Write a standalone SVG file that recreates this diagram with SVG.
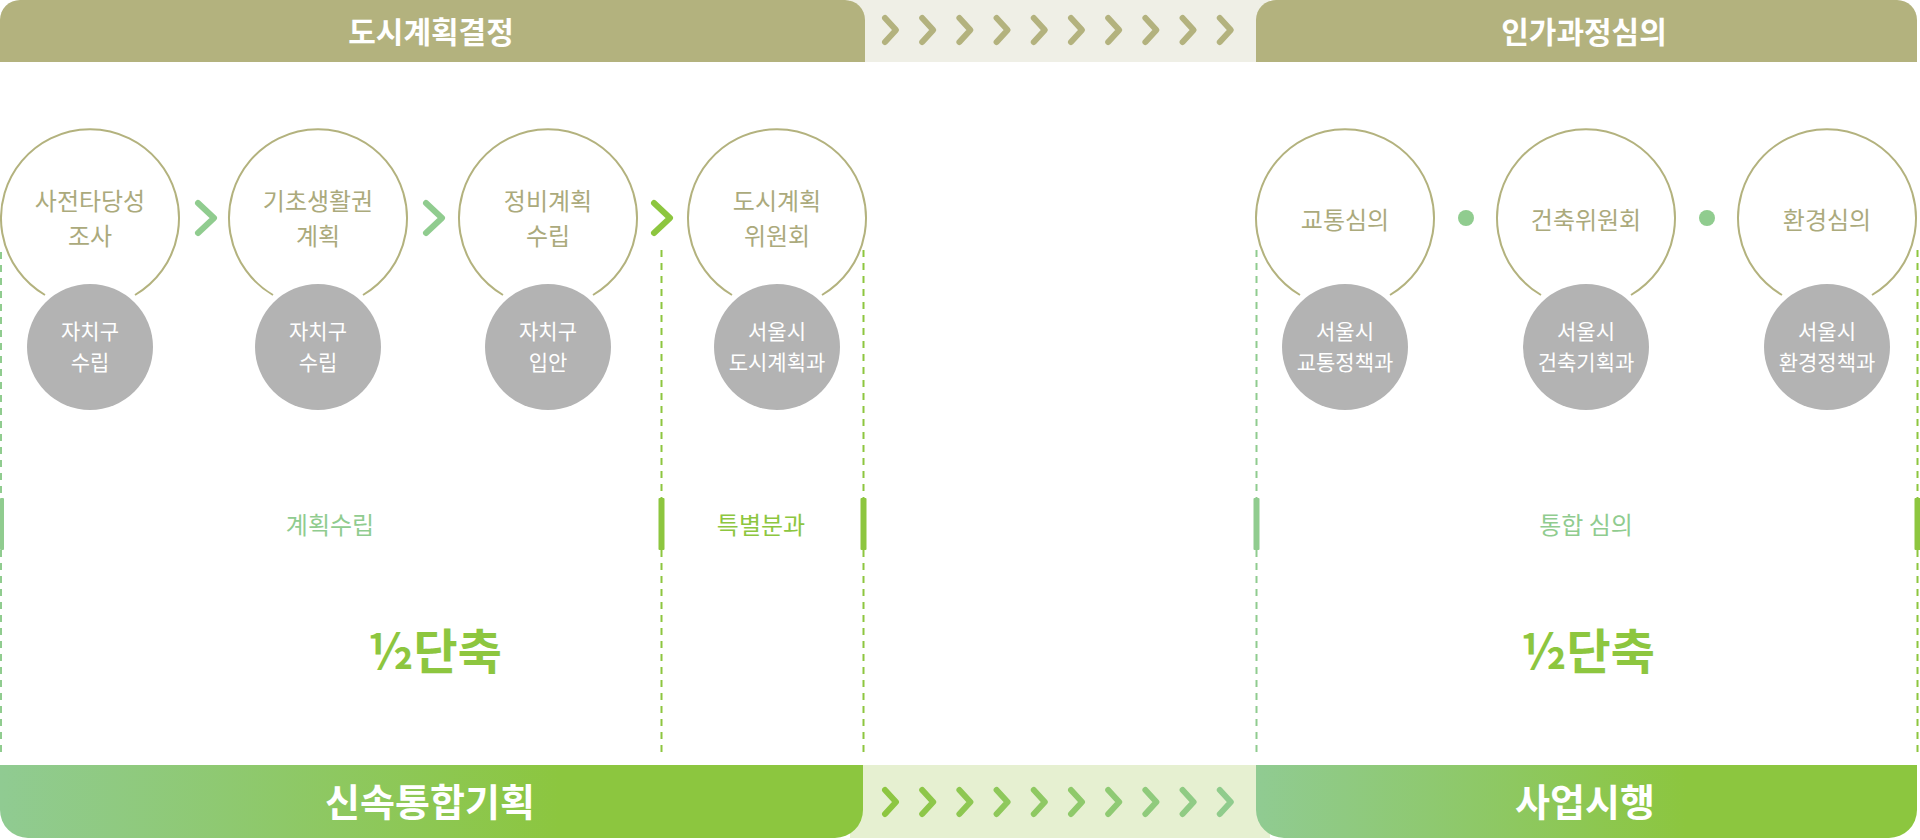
<svg xmlns="http://www.w3.org/2000/svg" width="1920" height="840" viewBox="0 0 1920 840">
<defs>
<style>
.hdr{fill:#b3b27e}
.hdrtxt{font-family:"Noto Sans CJK KR","Noto Sans",sans-serif;font-weight:700;font-size:30px;fill:#ffffff;text-anchor:middle}
.bartxt{font-family:"Noto Sans CJK KR","Noto Sans",sans-serif;font-weight:700;font-size:38px;fill:#ffffff;text-anchor:middle}
.ring{fill:none;stroke:#b3b27e;stroke-width:2}
.ctxt{font-family:"Noto Sans CJK KR","Noto Sans",sans-serif;font-weight:400;font-size:24px;fill:#abaa7c;text-anchor:middle}
.gray{fill:#b3b3b3}
.gtxt{font-family:"Noto Sans CJK KR","Noto Sans",sans-serif;font-weight:400;font-size:21px;fill:#ffffff;text-anchor:middle}
.chev{fill:none;stroke-width:6;stroke-linecap:round;stroke-linejoin:round}
.dashL{stroke:#90cc8f;stroke-width:2;stroke-dasharray:7 6;fill:none}
.dashB{stroke:#8dc63f;stroke-width:2;stroke-dasharray:7 6;fill:none}
.barL{fill:#90cc8f}
.barB{fill:#8dc63f}
.lbl{font-family:"Noto Sans CJK KR","Noto Sans",sans-serif;font-weight:400;font-size:24px;text-anchor:middle}
.big{font-family:"Noto Sans CJK KR","Noto Sans",sans-serif;font-weight:700;font-size:48px;fill:#8dc63f;text-anchor:middle}
</style>
<linearGradient id="barGrad1" gradientUnits="userSpaceOnUse" x1="0" y1="0" x2="863" y2="0">
<stop offset="0" stop-color="#90cb92"/>
<stop offset="0.65" stop-color="#8cc63f"/>
<stop offset="1" stop-color="#8cc63f"/>
</linearGradient>
<linearGradient id="barGrad2" gradientUnits="userSpaceOnUse" x1="1256" y1="0" x2="1917" y2="0">
<stop offset="0" stop-color="#90cb92"/>
<stop offset="0.65" stop-color="#8cc63f"/>
<stop offset="1" stop-color="#8cc63f"/>
</linearGradient>
<linearGradient id="chevGrad" gradientUnits="userSpaceOnUse" x1="880" y1="0" x2="1235" y2="0">
<stop offset="0" stop-color="#8dc63f"/>
<stop offset="1" stop-color="#90cc8f"/>
</linearGradient>
<path id="chevTop" d="M0,0 L11,12 L0,24"/>
</defs>

<rect width="1920" height="840" fill="#ffffff"/>

<!-- top chevron strip -->
<g id="top-strip">
<rect x="850" y="0" width="420" height="62" fill="#efefe6"/>
<g class="chev" stroke="#b3b27e">
<use href="#chevTop" x="885" y="18"/>
<use href="#chevTop" x="922.2" y="18"/>
<use href="#chevTop" x="959.4" y="18"/>
<use href="#chevTop" x="996.6" y="18"/>
<use href="#chevTop" x="1033.8" y="18"/>
<use href="#chevTop" x="1071" y="18"/>
<use href="#chevTop" x="1108.2" y="18"/>
<use href="#chevTop" x="1145.4" y="18"/>
<use href="#chevTop" x="1182.6" y="18"/>
<use href="#chevTop" x="1219.8" y="18"/>
</g>
</g>

<!-- bottom chevron strip -->
<g id="bottom-strip">
<rect x="850" y="765" width="420" height="73" fill="#e6f0d1"/>
<g class="chev" stroke="url(#chevGrad)">
<path d="M885,790 L896,802 L885,814 M922.2,790 L933.2,802 L922.2,814 M959.4,790 L970.4,802 L959.4,814 M996.6,790 L1007.6,802 L996.6,814 M1033.8,790 L1044.8,802 L1033.8,814 M1071,790 L1082,802 L1071,814 M1108.2,790 L1119.2,802 L1108.2,814 M1145.4,790 L1156.4,802 L1145.4,814 M1182.6,790 L1193.6,802 L1182.6,814 M1219.8,790 L1230.8,802 L1219.8,814"/>
</g>
</g>

<!-- headers -->
<g id="header-1">
<path class="hdr" d="M0,62 V20 A20,20 0 0 1 20,0 H845 A20,20 0 0 1 865,20 V62 Z"/>
<text class="hdrtxt" x="431" y="43">도시계획결정</text>
</g>
<g id="header-2">
<path class="hdr" d="M1256,62 V20 A20,20 0 0 1 1276,0 H1897 A20,20 0 0 1 1917,20 V62 Z"/>
<text class="hdrtxt" x="1584" y="43">인가과정심의</text>
</g>

<!-- bottom bars -->
<g id="bar-1">
<path fill="url(#barGrad1)" d="M0,765 H863 V810 A28,28 0 0 1 835,838 H28 A28,28 0 0 1 0,810 Z"/>
<text class="bartxt" x="430" y="816">신속통합기획</text>
</g>
<g id="bar-2">
<path fill="url(#barGrad2)" d="M1256,765 H1917 V810 A28,28 0 0 1 1889,838 H1284 A28,28 0 0 1 1256,810 Z"/>
<text class="bartxt" x="1585" y="816">사업시행</text>
</g>

<!-- connectors: dashed guides, bars, chevrons, dots -->
<g id="connectors">
<path class="dashL" d="M1,252 V498 M1,550 V754"/>
<path class="dashB" d="M661.5,250 V498 M661.5,550 V754"/>
<path class="dashB" d="M863.5,250 V498 M863.5,550 V754"/>
<path class="dashL" d="M1256.5,250 V498 M1256.5,550 V754"/>
<path class="dashB" d="M1917.5,250 V498 M1917.5,550 V754"/>
<rect class="barL" x="0" y="498" width="4" height="52" rx="1"/>
<rect class="barB" x="658.5" y="498" width="6" height="52" rx="1"/>
<rect class="barB" x="860.5" y="498" width="6" height="52" rx="1"/>
<rect class="barL" x="1253.5" y="498" width="6" height="52" rx="1"/>
<rect class="barB" x="1914.5" y="498" width="6" height="52" rx="1"/>
<path class="chev" stroke="#90cc8f" stroke-width="7" d="M198,203 L214,218 L198,233"/>
<path class="chev" stroke="#90cc8f" stroke-width="7" d="M426,203 L442,218 L426,233"/>
<path class="chev" stroke="#8dc63f" stroke-width="7" d="M654,203 L670,218 L654,233"/>
<circle cx="1466" cy="218" r="8" fill="#90cc8f"/>
<circle cx="1707" cy="218" r="8" fill="#90cc8f"/>
</g>

<!-- nodes -->
<g id="node-1">
<path class="ring" d="M45,295 A89,89 0 1 1 135,295"/>
<text class="ctxt" x="90" y="210">사전타당성<tspan x="90" dy="35">조사</tspan></text>
<circle class="gray" cx="90" cy="347" r="63"/>
<text class="gtxt" x="90" y="339">자치구<tspan x="90" dy="31">수립</tspan></text>
</g>
<g id="node-2">
<path class="ring" d="M273,295 A89,89 0 1 1 363,295"/>
<text class="ctxt" x="318" y="210">기초생활권<tspan x="318" dy="35">계획</tspan></text>
<circle class="gray" cx="318" cy="347" r="63"/>
<text class="gtxt" x="318" y="339">자치구<tspan x="318" dy="31">수립</tspan></text>
</g>
<g id="node-3">
<path class="ring" d="M503,295 A89,89 0 1 1 593,295"/>
<text class="ctxt" x="548" y="210">정비계획<tspan x="548" dy="35">수립</tspan></text>
<circle class="gray" cx="548" cy="347" r="63"/>
<text class="gtxt" x="548" y="339">자치구<tspan x="548" dy="31">입안</tspan></text>
</g>
<g id="node-4">
<path class="ring" d="M732,295 A89,89 0 1 1 822,295"/>
<text class="ctxt" x="777" y="210">도시계획<tspan x="777" dy="35">위원회</tspan></text>
<circle class="gray" cx="777" cy="347" r="63"/>
<text class="gtxt" x="777" y="339">서울시<tspan x="777" dy="31">도시계획과</tspan></text>
</g>
<g id="node-5">
<path class="ring" d="M1300,295 A89,89 0 1 1 1390,295"/>
<text class="ctxt" x="1345" y="229">교통심의</text>
<circle class="gray" cx="1345" cy="347" r="63"/>
<text class="gtxt" x="1345" y="339">서울시<tspan x="1345" dy="31">교통정책과</tspan></text>
</g>
<g id="node-6">
<path class="ring" d="M1541,295 A89,89 0 1 1 1631,295"/>
<text class="ctxt" x="1586" y="229">건축위원회</text>
<circle class="gray" cx="1586" cy="347" r="63"/>
<text class="gtxt" x="1586" y="339">서울시<tspan x="1586" dy="31">건축기획과</tspan></text>
</g>
<g id="node-7">
<path class="ring" d="M1782,295 A89,89 0 1 1 1872,295"/>
<text class="ctxt" x="1827" y="229">환경심의</text>
<circle class="gray" cx="1827" cy="347" r="63"/>
<text class="gtxt" x="1827" y="339">서울시<tspan x="1827" dy="31">환경정책과</tspan></text>
</g>

<!-- section labels -->
<g id="labels">
<text class="lbl" x="330" y="534" fill="#90cc8f">계획수립</text>
<text class="lbl" x="761" y="534" fill="#8dc63f">특별분과</text>
<text class="lbl" x="1586" y="534" fill="#90cc8f">통합 심의</text>
<text class="big" x="435" y="669">½단축</text>
<text class="big" x="1588" y="669">½단축</text>
</g>
</svg>
